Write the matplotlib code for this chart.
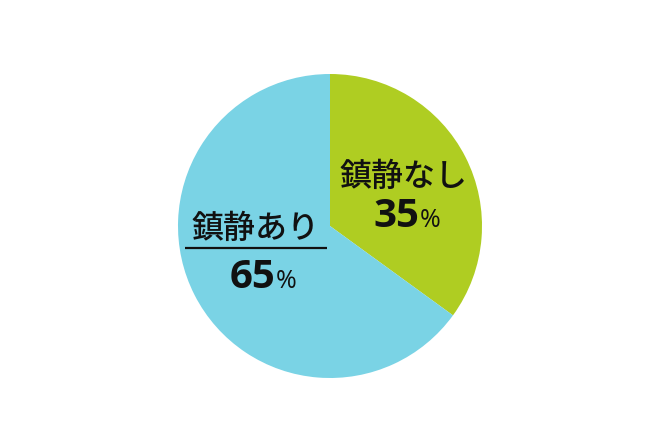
import matplotlib
matplotlib.use("Agg")
import matplotlib.pyplot as plt

plt.rcParams['font.family'] = ['Noto Sans CJK JP', 'DejaVu Sans']

# data
labels = ['鎮静なし', '鎮静あり']
values = [35, 65]
colors = ['#afcd22', '#7ad3e5']

W, H = 659, 421
fig = plt.figure(figsize=(W / 100, H / 100), dpi=100)
ax = fig.add_axes([0, 0, 1, 1])

# pie drawn in pixel coords (y flipped, so counterclock=True gives clockwise on screen)
ax.pie(values, colors=colors, startangle=-90, counterclock=True,
       center=(330, 226), radius=152, frame=True,
       wedgeprops=dict(linewidth=0))
ax.set_xlim(0, W)
ax.set_ylim(H, 0)
ax.set_aspect('equal')
ax.axis('off')

num_font = ['Open Sans', 'DejaVu Sans']

# label for 鎮静なし
ax.text(404, 177, labels[0], ha='center', va='center', fontsize=23,
        fontweight='medium', color='#111111')
ax.text(419, 227, str(values[0]), ha='right', va='baseline', fontsize=29,
        family=num_font, fontweight='bold', color='#111111')
ax.text(420, 227, '%', ha='left', va='baseline', fontsize=18,
        family=num_font, color='#111111')

# label for 鎮静あり
ax.text(256, 229, labels[1], ha='center', va='center', fontsize=23,
        fontweight='medium', color='#111111')
ax.plot([185, 327], [248, 248], color='#111111', linewidth=1.6, solid_capstyle='butt')
ax.text(275, 288, str(values[1]), ha='right', va='baseline', fontsize=29,
        family=num_font, fontweight='bold', color='#111111')
ax.text(276, 288, '%', ha='left', va='baseline', fontsize=18,
        family=num_font, color='#111111')

fig.savefig('out.png', dpi=100, facecolor='white')
